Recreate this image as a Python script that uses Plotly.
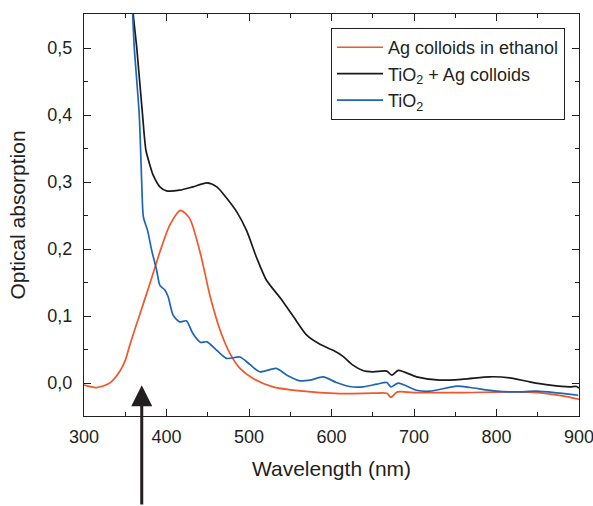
import plotly.graph_objects as go

# wavelength (nm) / optical absorption
ag_wl = [300, 315, 331, 344, 350, 356, 368, 380, 392, 404, 417, 428, 441, 453, 465,
         477, 489, 505, 529, 562, 610, 650, 667, 672, 680, 700, 760, 820, 850, 870,
         885, 900]
ag_abs = [-0.003, -0.0065, 0.0, 0.019, 0.034, 0.059, 0.104, 0.149, 0.196, 0.236,
          0.258, 0.246, 0.194, 0.129, 0.079, 0.044, 0.022, 0.007, -0.0055, -0.0115,
          -0.0155, -0.015, -0.015, -0.021, -0.013, -0.014, -0.014, -0.013, -0.014,
          -0.017, -0.02, -0.024]

mix_wl = [350, 359, 364, 371, 375, 380, 384, 392, 400, 416, 432, 449, 461, 473,
          485, 497, 509, 521, 538, 554, 570, 586, 602, 614, 626, 638, 650, 667, 673,
          681, 703, 731, 760, 792, 816, 840, 865, 889, 897, 900]
mix_abs = [0.80, 0.56, 0.50, 0.40, 0.348, 0.325, 0.31, 0.293, 0.287, 0.288, 0.293,
           0.299, 0.293, 0.276, 0.256, 0.228, 0.188, 0.154, 0.127, 0.099, 0.0716,
           0.058, 0.049, 0.04, 0.027, 0.019, 0.017, 0.018, 0.012, 0.019, 0.0095,
           0.0045, 0.006, 0.0095, 0.008, 0.002, -0.003, -0.0055, -0.005, -0.0075]

tio2_wl = [350, 359, 361, 367, 370, 372, 377, 382, 388, 392, 398, 402, 408, 416,
           424, 432, 441, 449, 461, 473, 489, 501, 513, 533, 546, 562, 574, 590,
           606, 622, 638, 655, 667, 672, 681, 703, 719, 752, 768, 800, 824, 849,
           873, 899]
tio2_abs = [0.85, 0.551, 0.50, 0.40, 0.298, 0.248, 0.228, 0.1985, 0.169, 0.146,
            0.139, 0.129, 0.1015, 0.0915, 0.093, 0.074, 0.061, 0.0617, 0.049, 0.037,
            0.039, 0.028, 0.017, 0.022, 0.012, 0.0035, 0.0045, 0.0094, 0.001,
            -0.005, -0.0055, -0.0015, 0.001, -0.0055, 0.0, -0.0105, -0.012, -0.0045,
            -0.0065, -0.012, -0.013, -0.012, -0.0145, -0.018]

y_ticks = [0.0, 0.1, 0.2, 0.3, 0.4, 0.5]
x_ticks = [300, 400, 500, 600, 700, 800, 900]

font = "Liberation Sans, Arial, sans-serif"
ink = "#231f20"

fig = go.Figure()
fig.add_trace(go.Scatter(x=ag_wl, y=ag_abs, mode="lines", name="Ag colloids in ethanol",
                         line=dict(color="#f2562a", width=1.7, shape="spline", smoothing=0.7)))
fig.add_trace(go.Scatter(x=mix_wl, y=mix_abs, mode="lines", name="TiO<sub>2</sub> + Ag colloids",
                         line=dict(color="#1a1a1a", width=1.7, shape="spline", smoothing=0.7)))
fig.add_trace(go.Scatter(x=tio2_wl, y=tio2_abs, mode="lines", name="TiO<sub>2</sub>",
                         line=dict(color="#1f65b5", width=1.7, shape="spline", smoothing=0.7)))

# arrow marking the excitation wavelength
fig.add_annotation(x=370, y=-0.003, xref="x", yref="y", text="", showarrow=True,
                   ax=0, ay=125, arrowhead=2, arrowsize=1.4, arrowwidth=3,
                   arrowcolor=ink)

axis_common = dict(showline=True, linecolor=ink, linewidth=1.3, mirror="ticks",
                   ticks="inside", ticklen=7, tickwidth=1.2, tickcolor=ink,
                   showgrid=False, zeroline=False, automargin=False,
                   ticklabeloverflow="allow",
                   tickfont=dict(size=18, color=ink, family=font))

fig.update_xaxes(range=[300, 900], tickvals=x_ticks, ticklabelstandoff=4,
                 minor=dict(ticks="inside", ticklen=4, tickcolor=ink, dtick=50, tick0=300),
                 title=dict(text="Wavelength (nm)", font=dict(size=21, color=ink, family=font)),
                 **axis_common)
fig.update_yaxes(range=[-0.049, 0.551], tickvals=y_ticks, tickformat=".1f",
                 ticklabelstandoff=7,
                 minor=dict(ticks="inside", ticklen=4, tickcolor=ink, dtick=0.05, tick0=0),
                 title=dict(text="Optical absorption", font=dict(size=21, color=ink, family=font)),
                 **axis_common)

fig.update_layout(
    width=593, height=506,
    margin=dict(l=84, r=14, t=14, b=90),
    paper_bgcolor="white", plot_bgcolor="white",
    separators=",.",
    font=dict(family=font, color=ink),
    legend=dict(x=0.499, y=0.965, xanchor="left", yanchor="top",
                bordercolor=ink, borderwidth=1, bgcolor="white",
                font=dict(size=18, family=font, color=ink),
                itemwidth=46, tracegroupgap=0),
    showlegend=True,
)

# drop the default page margin so the figure sits at the window's corner
fig.write_html("out.html", config={"displayModeBar": False},
               post_script="document.body.style.margin='0';")
